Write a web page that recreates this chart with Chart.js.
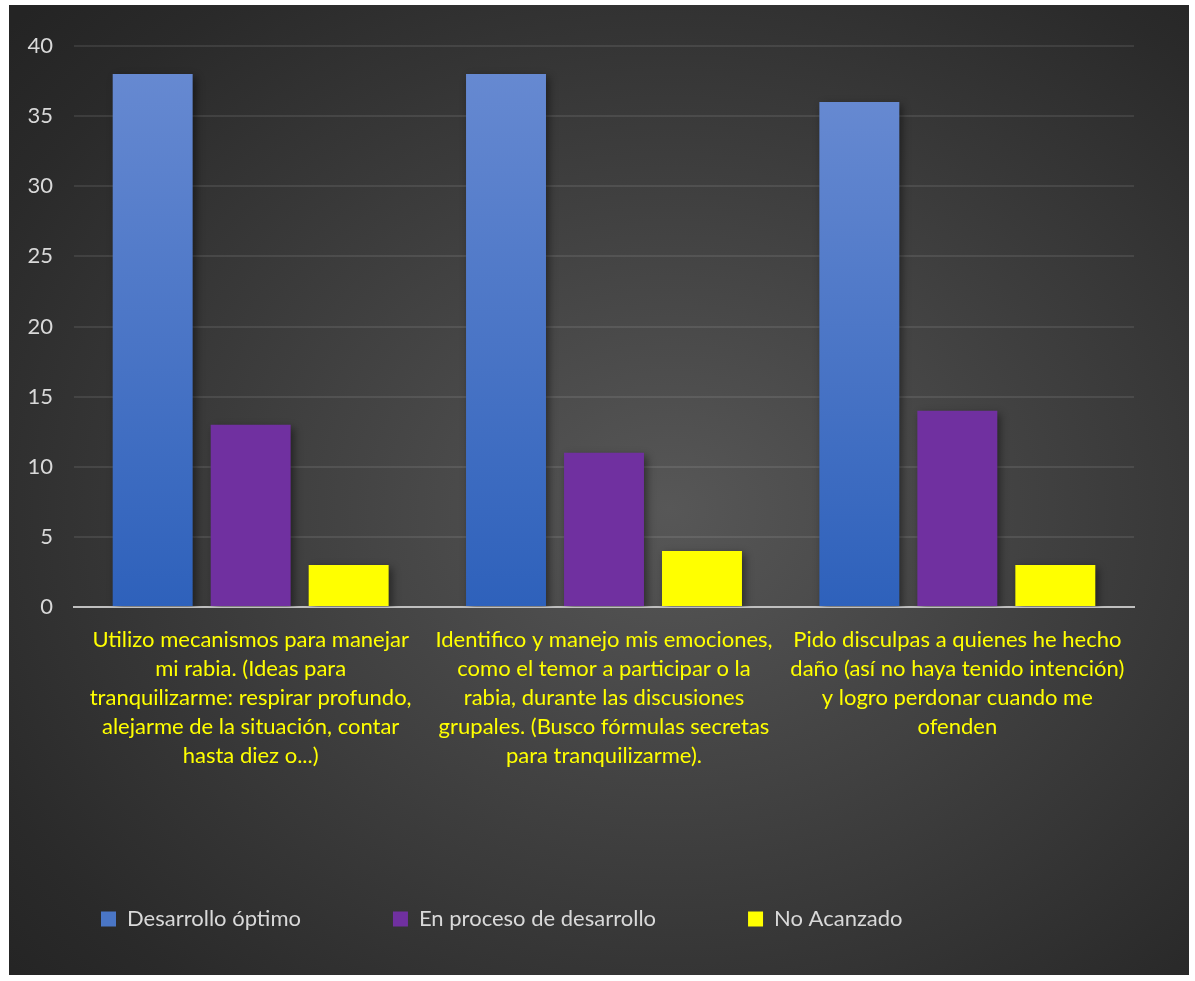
<!DOCTYPE html>
<html>
<head>
<meta charset="utf-8">
<script src="https://cdn.jsdelivr.net/npm/chart.js@4.4.1/dist/chart.umd.min.js"></script>
<style>
	html, body { margin: 0; padding: 0; background: #fff; }
	#wrap {
		position: absolute; left: 9px; top: 5px; width: 1180px; height: 970px;
		background: radial-gradient(ellipse 75% 75% at 56% 52%, #575757 0%, #3f3f3f 45%, #2a2a2a 85%, #242424 100%);
	}
	#chart { display: block; }
</style>
</head>
<body>
<div id="wrap"><canvas id="chart" width="1180" height="970"></canvas></div>
<script>
const categories = [
	["Utilizo mecanismos para manejar", "mi rabia. (Ideas para", "tranquilizarme: respirar profundo,", "alejarme de la situación, contar", "hasta diez o...)"],
	["Identifico y manejo mis emociones,", "como el temor a participar o la", "rabia, durante las discusiones", "grupales. (Busco fórmulas secretas", "para tranquilizarme)."],
	["Pido disculpas a quienes he hecho", "daño (así no haya tenido intención)", "y logro perdonar cuando me", "ofenden"],
];
const seriesNames = ["Desarrollo óptimo", "En proceso de desarrollo", "No Acanzado"];
const optimo = [38, 38, 36];
const enProceso = [13, 11, 14];
const noAlcanzado = [3, 4, 3];
const yTicks = [0, 5, 10, 15, 20, 25, 30, 35, 40];

const FONT = "Lato, 'Noto Sans', sans-serif";

// per-bar vertical gradient for the blue series
function blueFill(ctx) {
	const chart = ctx.chart;
	if (!chart.chartArea || ctx.dataIndex === undefined) return '#4a76c6';
	const y = chart.scales.y;
	const top = y.getPixelForValue(optimo[ctx.dataIndex]);
	const bottom = y.getPixelForValue(0);
	const g = chart.ctx.createLinearGradient(0, top, 0, bottom);
	g.addColorStop(0, '#6689d1');
	g.addColorStop(1, '#2e61bb');
	return g;
}

const barShadow = {
	id: 'barShadow',
	beforeDatasetsDraw(chart) {
		const c = chart.ctx;
		c.save();
		c.shadowColor = 'rgba(0,0,0,0.45)';
		c.shadowBlur = 8;
		c.shadowOffsetX = 3;
		c.shadowOffsetY = 3;
	},
	afterDatasetsDraw(chart) {
		chart.ctx.restore();
	}
};

const config = {
	type: 'bar',
	data: {
		labels: categories,
		datasets: [
			{ label: seriesNames[0], data: optimo, backgroundColor: blueFill },
			{ label: seriesNames[1], data: enProceso, backgroundColor: '#7030a0' },
			{ label: seriesNames[2], data: noAlcanzado, backgroundColor: '#ffff00' },
		],
	},
	options: {
		responsive: false,
		animation: false,
		categoryPercentage: 0.832,
		barPercentage: 0.816,
		layout: { padding: { left: 0, right: 55, top: 41, bottom: 35 } },
		plugins: {
			tooltip: { enabled: false },
			legend: {
				position: 'bottom',
				align: 'start',
				labels: {
					color: '#d9d9d9',
					font: { family: FONT, size: 22 },
					boxWidth: 15,
					boxHeight: 15,
					padding: 92,
					generateLabels(chart) {
						const cols = ['#4a76c6', '#7030a0', '#ffff00'];
						return chart.data.datasets.map((d, i) => ({
							text: d.label, fillStyle: cols[i], strokeStyle: cols[i],
							lineWidth: 0, fontColor: '#d9d9d9', datasetIndex: i, hidden: false,
						}));
					},
				},
			},
		},
		scales: {
			x: {
				grid: { display: false, drawTicks: false },
				border: { display: true, color: '#bfbfbf', width: 2 },
				ticks: {
					color: '#ffff00',
					font: { family: FONT, size: 22, lineHeight: 1.32 },
					padding: 18,
					maxRotation: 0,
					autoSkip: false,
				},
				afterFit(scale) { scale.height = 209; },
			},
			y: {
				min: 0,
				max: 40,
				afterBuildTicks(scale) { scale.ticks = yTicks.map(v => ({ value: v })); },
				grid: { color: 'rgba(255,255,255,0.09)', lineWidth: 2, drawTicks: false },
				border: { display: false },
				ticks: {
					color: '#d9d9d9',
					font: { family: FONT, size: 22 },
					padding: 21,
				},
				afterFit(scale) { scale.width = 65; },
			},
		},
	},
	plugins: [barShadow],
};

const chart = new Chart(document.getElementById("chart"), config);
</script>
</body>
</html>
